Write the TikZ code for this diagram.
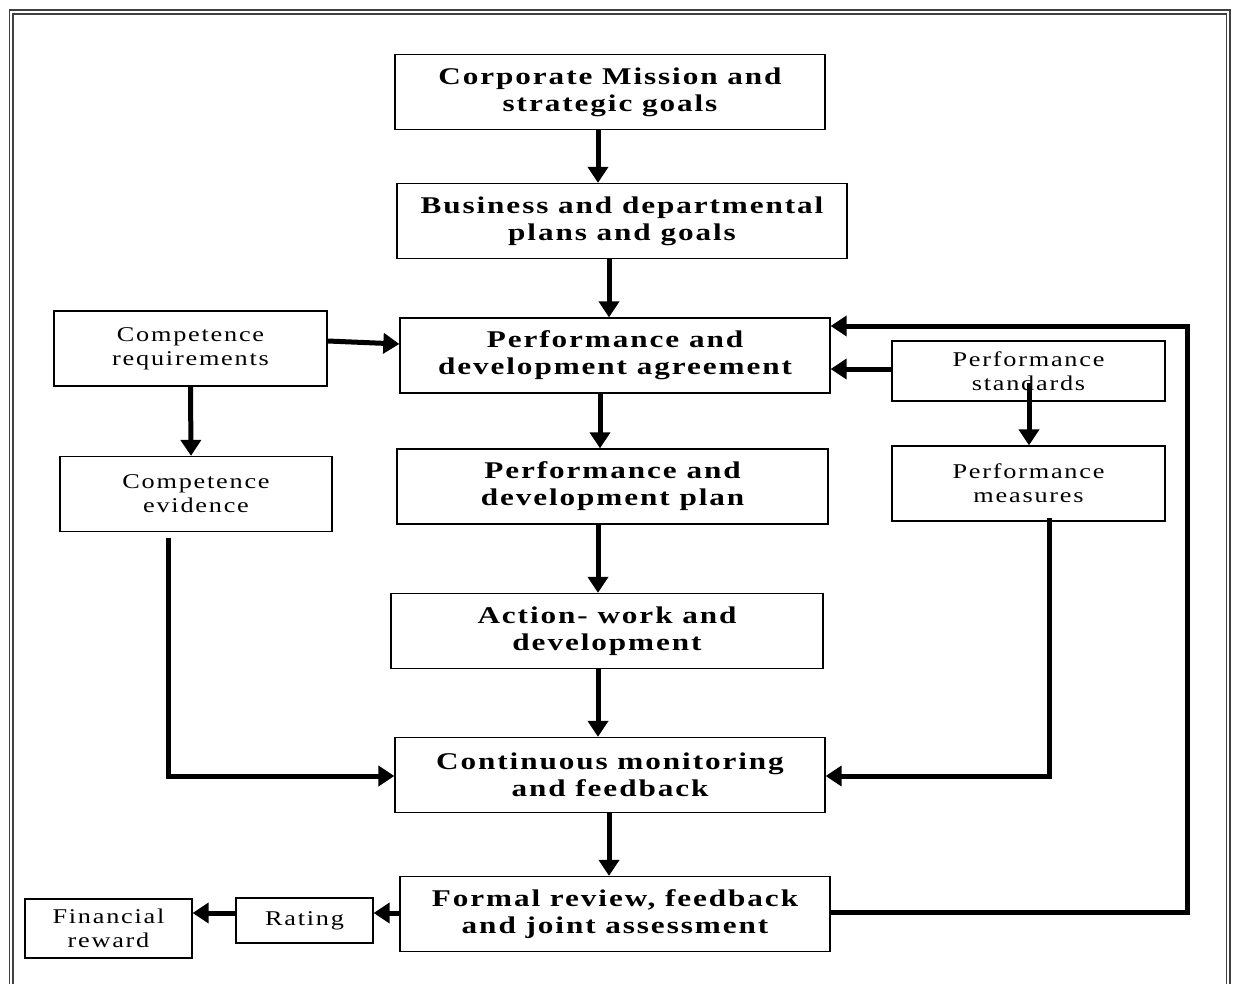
\documentclass[tikz,border=0pt]{standalone}
\usepackage{fontspec}
\setmainfont{Liberation Serif}
\newfontfamily\boxfont[LetterSpace=8,FakeStretch=1.3]{Liberation Serif}
\newfontfamily\sidefont[LetterSpace=8.5,FakeStretch=1.25]{Liberation Serif}
\usetikzlibrary{arrows.meta,calc}
\begin{document}
\begin{tikzpicture}[x=1pt,y=-1pt,
  box/.style={draw, line width=1.3pt, inner sep=0pt, align=center},
  mainbox/.style={box, minimum width=430pt, minimum height=75pt,
    font=\boxfont\bfseries\fontsize{24}{27}\selectfont},
  sidebox/.style={box, minimum width=273pt, minimum height=75pt,
    font=\sidefont\fontsize{21}{24}\selectfont},
  flow/.style={line width=5pt, -{Triangle[length=16pt,width=20pt]}},
  frameline/.style={line width=1.2pt, draw=black!75},
]
\useasboundingbox (0,0) rectangle (1233,984);

% double outer frame
\draw[frameline] (9.5,995) -- (9.5,10) -- (1230,10) -- (1230,995);
\draw[frameline] (13,995) -- (13,14) -- (1226.5,14) -- (1226.5,995);

% main chain
\node[mainbox] (corp) at (610,92) {Corporate Mission and\\strategic goals};
\node[mainbox, minimum width=450pt] (bus) at (622,221) {Business and departmental\\plans and goals};
\node[mainbox] (agree) at (615,355.5) {Performance and\\development agreement};
\node[mainbox, minimum width=431pt] (plan) at (612.5,486.5) {Performance and\\development plan};
\node[mainbox, minimum width=432pt] (act) at (607,631) {Action- work and\\development};
\node[mainbox] (mon) at (610,775) {Continuous monitoring\\and feedback};
\node[mainbox] (rev) at (615,914) {Formal review, feedback\\and joint assessment};

% side boxes
\node[sidebox] (creq) at (190.5,348.5) {Competence\\requirements};
\node[sidebox, minimum width=272pt] (cev) at (196,494) {Competence\\evidence};
\node[sidebox, minimum height=60pt] (std) at (1028.5,371) {Performance\\standards};
\node[sidebox] (meas) at (1028.5,483.5) {Performance\\measures};
\node[sidebox, minimum width=137pt, minimum height=45pt] (rat) at (304.5,920.5) {Rating};
\node[sidebox, minimum width=167pt, minimum height=59pt] (fin) at (108.5,928.5) {Financial\\reward};

% vertical flow of the main chain
\draw[flow] ($(corp.south)+(-12,0)$) -- ($(bus.north)+(-24,0)$);
\draw[flow] ($(bus.south)+(-13,0)$) -- ($(agree.north)+(-6,0)$);
\draw[flow] ($(agree.south)+(-15,0)$) -- ($(plan.north)+(-12.5,0)$);
\draw[flow] ($(plan.south)+(-14.5,0)$) -- ($(act.north)+(-9,0)$);
\draw[flow] ($(act.south)+(-9,0)$) -- ($(mon.north)+(-12,0)$);
\draw[flow] ($(mon.south)+(-1,0)$) -- ($(rev.north)+(-6,0)$);

% competence branch
\draw[flow] ($(creq.east)+(0,-7.5)$) -- ($(agree.west)+(0,-11.5)$);
\draw[flow] (creq.south) -- ($(cev.north)+(-5,0)$);
\coordinate (cevout) at ($(cev.south)+(-28,6)$);
\draw[flow] (cevout) |- ($(mon.west)+(0,1)$);

% performance standards branch
\coordinate (stdin) at ($(std.west)+(0,-2)$);
\draw[flow] (stdin) -- (stdin -| agree.east);
\coordinate (stdout) at ($(std.center)+(0.5,12)$);
\draw[flow] (stdout) -- (stdout |- meas.north);
\coordinate (measout) at ($(meas.south)+(21,-4)$);
\draw[flow] (measout) |- ($(mon.east)+(0,1)$);

% feedback loop from the review back to the agreement
\coordinate (revout) at ($(rev.east)+(0,-2)$);
\draw[flow] (revout) -- ++(357,0) |- ($(agree.east)+(0,-29.5)$);

% review outcomes
\draw[flow] ($(rev.west)+(0,-1)$) -- ($(rat.east)+(0,-7.5)$);
\draw[flow] ($(rat.west)+(0,-7.5)$) -- ($(fin.east)+(0,-15.5)$);
\end{tikzpicture}
\end{document}
